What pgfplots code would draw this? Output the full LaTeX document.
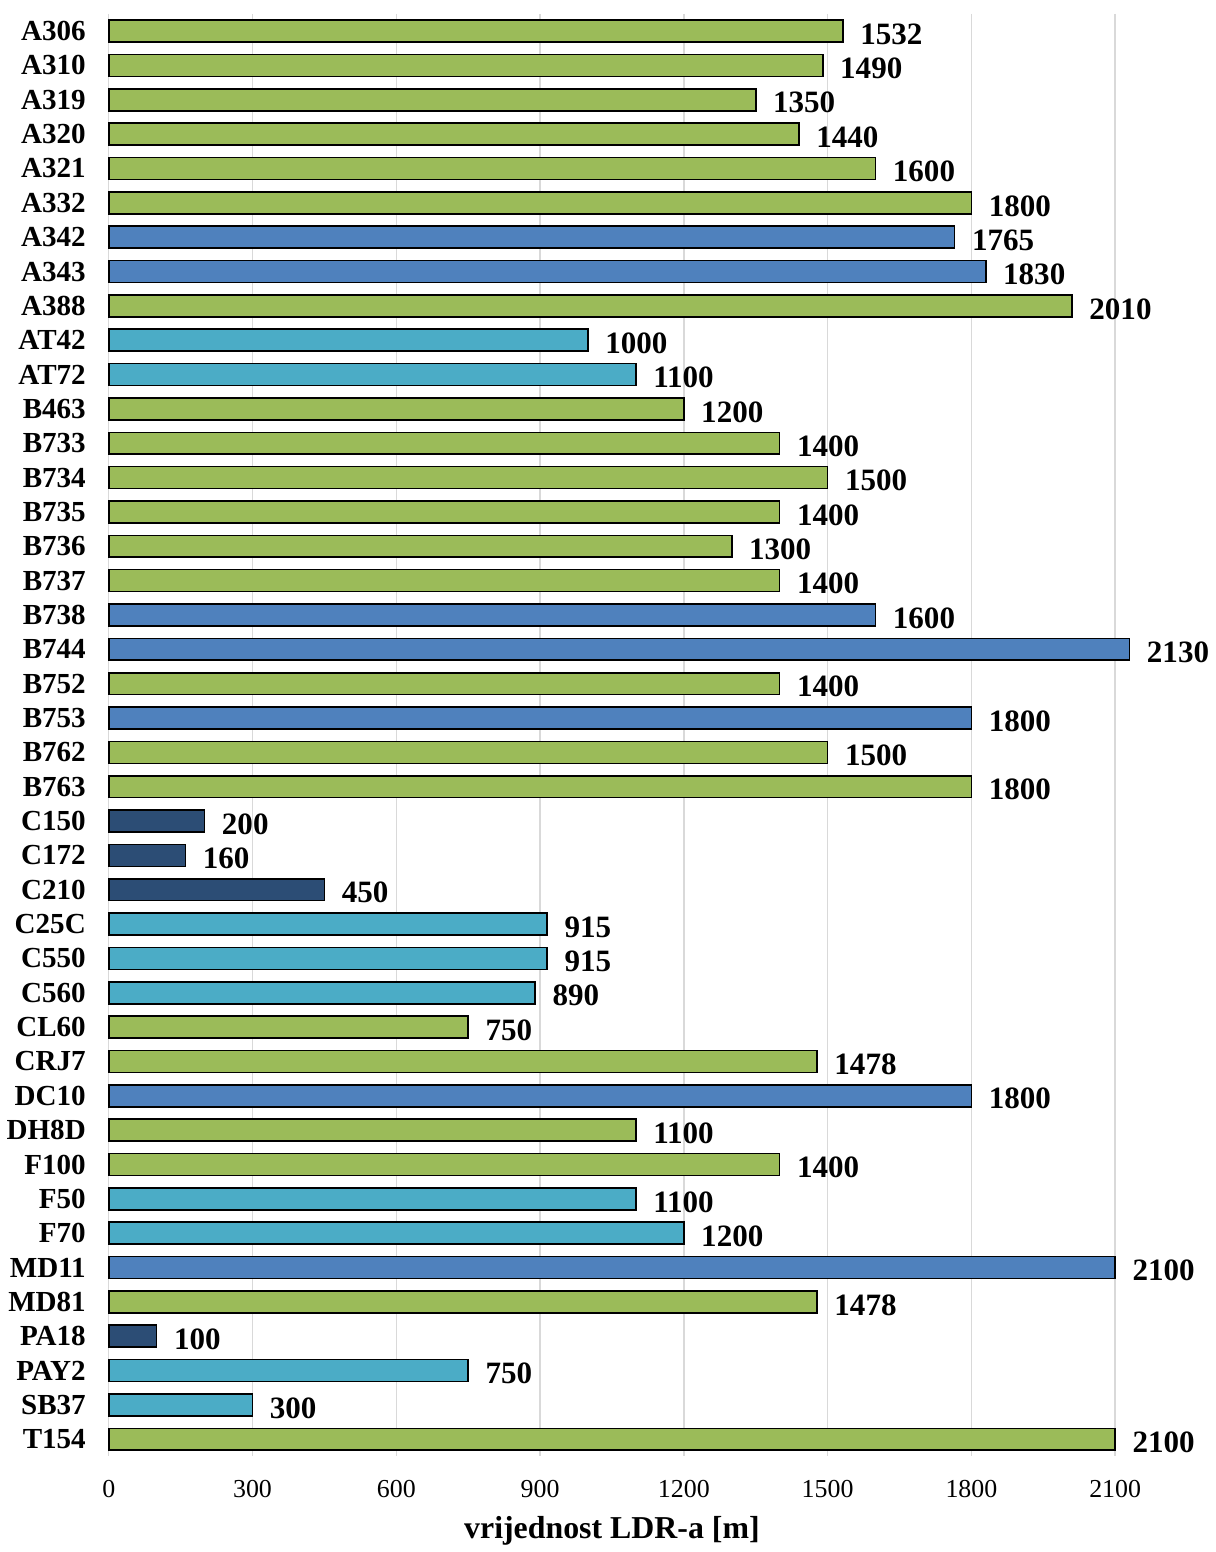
\documentclass[border=0pt]{standalone}
\usepackage{pgfplots}
\pgfplotsset{compat=1.18}
\usepackage{fontspec}
\setmainfont{Liberation Serif}
\definecolor{cg}{HTML}{9BBB59}
\definecolor{cb}{HTML}{4F81BD}
\definecolor{ct}{HTML}{4BACC6}
\definecolor{cn}{HTML}{2C4D75}
\begin{document}
\begin{tikzpicture}
\begin{axis}[
  scale only axis, width=505.5pt, height=724.5pt,
  xbar, bar width=11pt, bar shift=0pt,
  xmin=0, xmax=2100, ymin=-0.5, ymax=41.5, y dir=reverse,
  ytick={0,...,41},
  yticklabels={A306,A310,A319,A320,A321,A332,A342,A343,A388,AT42,AT72,B463,B733,B734,B735,B736,B737,B738,B744,B752,B753,B762,B763,C150,C172,C210,C25C,C550,C560,CL60,CRJ7,DC10,DH8D,F100,F50,F70,MD11,MD81,PA18,PAY2,SB37,T154},
  xtick={0,300,...,2100},
  axis line style={draw=none}, major tick length=0pt,
  xmajorgrids, grid style={color=black!15, line width=0.75pt},
  yticklabel style={font=\fontsize{14.6}{14.6}\selectfont\bfseries, xshift=-8pt},
  xticklabel style={font=\fontsize{13}{13}\selectfont, yshift=-8.5pt},
  xlabel={vrijednost LDR-a [m]},
  xlabel style={font=\fontsize{16}{16}\selectfont\bfseries, yshift=-2.5pt},
  /pgf/number format/assume math mode=true,
  /pgf/number format/1000 sep={},
  nodes near coords,
  nodes near coords style={font=\fontsize{15.6}{15.6}\selectfont\bfseries, anchor=west, xshift=5pt, yshift=-1.5pt},
  every axis plot/.append style={draw=black, line width=0.8pt},
  clip=false,
]
\addplot[fill=cg] coordinates {(1532,0) (1490,1) (1350,2) (1440,3) (1600,4) (1800,5) (2010,8) (1200,11) (1400,12) (1500,13) (1400,14) (1300,15) (1400,16) (1400,19) (1500,21) (1800,22) (750,29) (1478,30) (1100,32) (1400,33) (1478,37) (2100,41)};
\addplot[fill=cb] coordinates {(1765,6) (1830,7) (1600,17) (2130,18) (1800,20) (1800,31) (2100,36)};
\addplot[fill=ct] coordinates {(1000,9) (1100,10) (915,26) (915,27) (890,28) (1100,34) (1200,35) (750,39) (300,40)};
\addplot[fill=cn] coordinates {(200,23) (160,24) (450,25) (100,38)};
\end{axis}
\path (current axis.north west) ++(0,7pt);
\end{tikzpicture}
\end{document}
